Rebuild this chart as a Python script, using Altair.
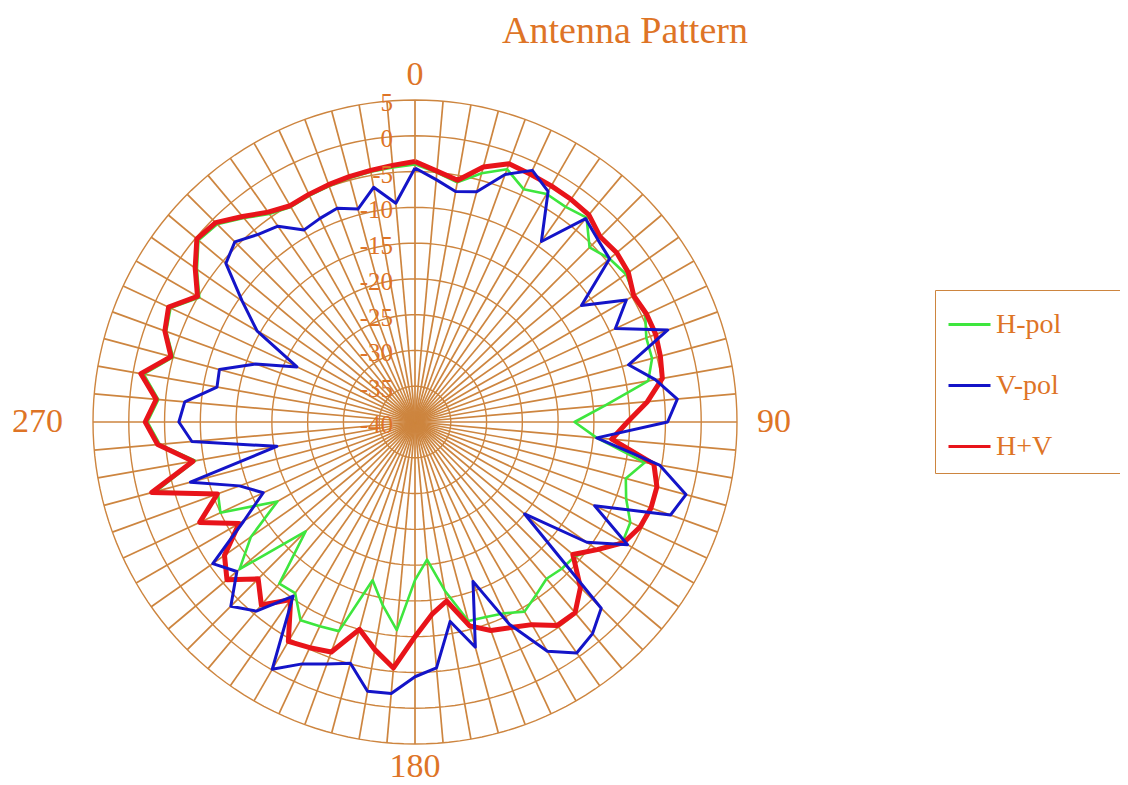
import altair as alt
import pandas as pd

# ---------------- data ----------------
angles = list(range(0, 360, 5))

h_pol = [-4.0, -5.0, -6.0, -4.0, -2.4, -4.1, -3.2, -3.3, -2.7, -5.5, -4.5, -4.0,
         -4.6, -4.5, -5.6, -5.7, -6.9, -13.3, -17.7, -14.5, -7.4, -9.5, -8.6, -6.8,
         -6.5, -9.0, -10.8, -11.0, -11.4, -10.5, -9.4, -10.5, -11.0, -11.2, -16.1, -20.7,
         -17.9, -10.8, -14.0, -17.1, -8.9, -8.5, -8.0, -10.8, -10.5, -18.4, -8.0, -12.0,
         -17.8, -10.0, -10.7, -2.5, -8.8, -4.2, -2.6, -4.0, -1.5, -5.0, -3.0, -2.3,
         -5.2, -2.8, -0.5, -0.9, -2.8, -4.5, -5.3, -5.1, -4.9, -4.7, -4.5, -4.3]

v_pol = [-4.5, -6.0, -7.3, -6.7, -3.2, -1.2, -2.8, -9.2, -2.9, -3.9, -4.5, -11.6,
         -5.9, -9.1, -2.4, -9.1, -5.9, -3.2, -4.7, -14.5, -5.3, -0.8, -2.0, -12.3,
         -5.7, -10.7, -20.0, -3.2, -1.4, -0.6, -3.0, -8.8, -16.3, -7.4, -11.7, -5.5,
         -4.4, -1.9, -1.8, -5.1, -4.0, -2.7, -0.1, -10.3, -5.5, -3.6, -7.5, -5.5,
         -12.4, -16.6, -13.9, -7.5, -20.4, -8.7, -7.0, -7.7, -11.9, -11.7, -16.3, -21.8,
         -14.5, -10.5, -5.5, -4.4, -5.8, -6.6, -9.0, -8.6, -8.2, -9.2, -6.7, -9.3]

h_plus_v = [-3.6, -4.8, -5.7, -3.1, -1.6, -1.8, -1.9, -2.0, -2.2, -3.4, -3.2, -3.6,
            -4.7, -4.3, -4.2, -4.5, -4.9, -7.4, -10.3, -12.4, -6.1, -5.0, -4.9, -5.3,
            -6.3, -8.9, -11.2, -7.3, -5.2, -5.3, -7.3, -8.3, -9.0, -10.5, -14.6, -13.0,
            -10.0, -5.5, -7.7, -10.0, -5.8, -5.2, -4.6, -9.7, -6.6, -9.0, -5.7, -7.5,
            -11.6, -6.8, -10.6, -1.9, -8.5, -3.9, -2.3, -3.7, -1.1, -4.7, -2.8, -2.0,
            -4.9, -2.5, -0.2, -0.6, -2.5, -4.2, -5.1, -4.9, -4.7, -4.5, -4.3, -4.0]

series_names = ["H-pol", "V-pol", "H+V"]
series_colors = ["#3ee63e", "#1414c8", "#e8141a"]
series_widths = {"H-pol": 2.6, "V-pol": 3.0, "H+V": 5.0}

ring_levels = [5, 0, -5, -10, -15, -20, -25, -30, -35, -40]
spoke_angles = list(range(0, 360, 5))
compass_angles = [0, 90, 180, 270]
compass_labels = ["0", "90", "180", "270"]
title_text = ["Antenna Pattern"]

R_MIN = -40
R_MAX = 5
SPAN = R_MAX - R_MIN

GRID = "#cd853f"
TEXT = "#de7426"
FONT = "Liberation Serif"

# ---------------- tables ----------------
rows = []
for name, vals in zip(series_names, [h_pol, v_pol, h_plus_v]):
    for i, (a, v) in enumerate(zip(angles + [360], vals + [vals[0]])):
        rows.append({"series": name, "angle": a, "db": v, "k": i})
df = pd.DataFrame(rows)

ring_rows = []
for lvl in ring_levels[:-1]:
    for a in range(0, 361, 2):
        ring_rows.append({"level": lvl, "angle": a})
rings = pd.DataFrame(ring_rows)

spokes = pd.DataFrame({"angle": spoke_angles})
ticks = pd.DataFrame({"level": ring_levels, "label": [str(v) for v in ring_levels]})
compass = pd.DataFrame({"angle": compass_angles, "label": compass_labels})
titles = pd.DataFrame({"t": title_text})

xs = alt.Scale(domain=[-SPAN, SPAN], nice=False, zero=False)
ys = alt.Scale(domain=[-SPAN, SPAN], nice=False, zero=False)
X = lambda f: alt.X(f, type="quantitative", scale=xs, axis=None)
Y = lambda f: alt.Y(f, type="quantitative", scale=ys, axis=None)

# grid circles
ring_layer = alt.Chart(rings).transform_calculate(
    r=f"datum.level - ({R_MIN})",
    x="datum.r * sin(datum.angle * PI / 180)",
    y="datum.r * cos(datum.angle * PI / 180)",
).mark_line(color=GRID, strokeWidth=1.4).encode(
    x=X("x"), y=Y("y"), detail="level:N", order="angle:Q"
)

# spokes
spoke_layer = alt.Chart(spokes).transform_calculate(
    x=f"{SPAN} * sin(datum.angle * PI / 180)",
    y=f"{SPAN} * cos(datum.angle * PI / 180)",
    x0="0", y0="0",
).mark_rule(color=GRID, strokeWidth=1.7).encode(
    x=X("x0"), y=Y("y0"), x2="x:Q", y2="y:Q"
)

# radial tick labels
tick_layer = alt.Chart(ticks).transform_calculate(
    r=f"datum.level - ({R_MIN})", x0="0"
).mark_text(align="right", baseline="middle", dx=-22, dy=3,
            font=FONT, fontSize=25, color=TEXT).encode(
    x=X("x0"), y=Y("r"), text="label:N"
)

def compass_layer(lbl, radius, align):
    return alt.Chart(compass).transform_filter(
        f"datum.label == '{lbl}'"
    ).transform_calculate(
        x=f"{radius} * sin(datum.angle * PI / 180)",
        y=f"{radius} * cos(datum.angle * PI / 180)",
    ).mark_text(align=align, baseline="middle", font=FONT, fontSize=34,
                color=TEXT).encode(x=X("x"), y=Y("y"), text="label:N")

# chart title as a text mark above the plot
title_layer = alt.Chart(titles).mark_text(
    align="center", baseline="alphabetic", font=FONT, fontSize=38, color=TEXT
).encode(x=alt.value(532), y=alt.value(-57), text="t:N")

legend = alt.Legend(
    orient="none", legendX=842, legendY=190, title=" ", titleOrient="right",
    titlePadding=60, titleFontSize=10,
    symbolType="stroke", symbolSize=1764, symbolStrokeWidth=3,
    labelFont=FONT, labelFontSize=28,
    labelColor=TEXT, strokeColor=GRID, padding=12, rowPadding=24,
    labelOffset=4, fillColor="white"
)

def series_layer(name):
    return alt.Chart(df).transform_filter(
        f"datum.series == '{name}'"
    ).transform_calculate(
        r=f"max(datum.db - ({R_MIN}), 0)",
        x="datum.r * sin(datum.angle * PI / 180)",
        y="datum.r * cos(datum.angle * PI / 180)",
    ).mark_line(strokeJoin="round", strokeWidth=series_widths[name]).encode(
        x=X("x"), y=Y("y"), order="k:Q",
        color=alt.Color("series:N", scale=alt.Scale(domain=series_names, range=series_colors),
                        legend=legend),
    )

chart = alt.layer(
    ring_layer, spoke_layer,
    series_layer("H-pol"), series_layer("H+V"), series_layer("V-pol"),
    tick_layer,
    compass_layer("0", 48.5, "center"), compass_layer("180", 48.2, "center"),
    compass_layer("90", 47.8, "left"), compass_layer("270", 49.2, "right"),
    title_layer,
).properties(
    width=644, height=644, background="white",
    autosize=alt.AutoSizeParams(type="none"),
    padding={"left": 85, "top": 92, "right": 383, "bottom": 40},
).configure_view(strokeWidth=0, stroke=None)

chart.save("out.html", embed_options={"renderer": "svg", "actions": False})
